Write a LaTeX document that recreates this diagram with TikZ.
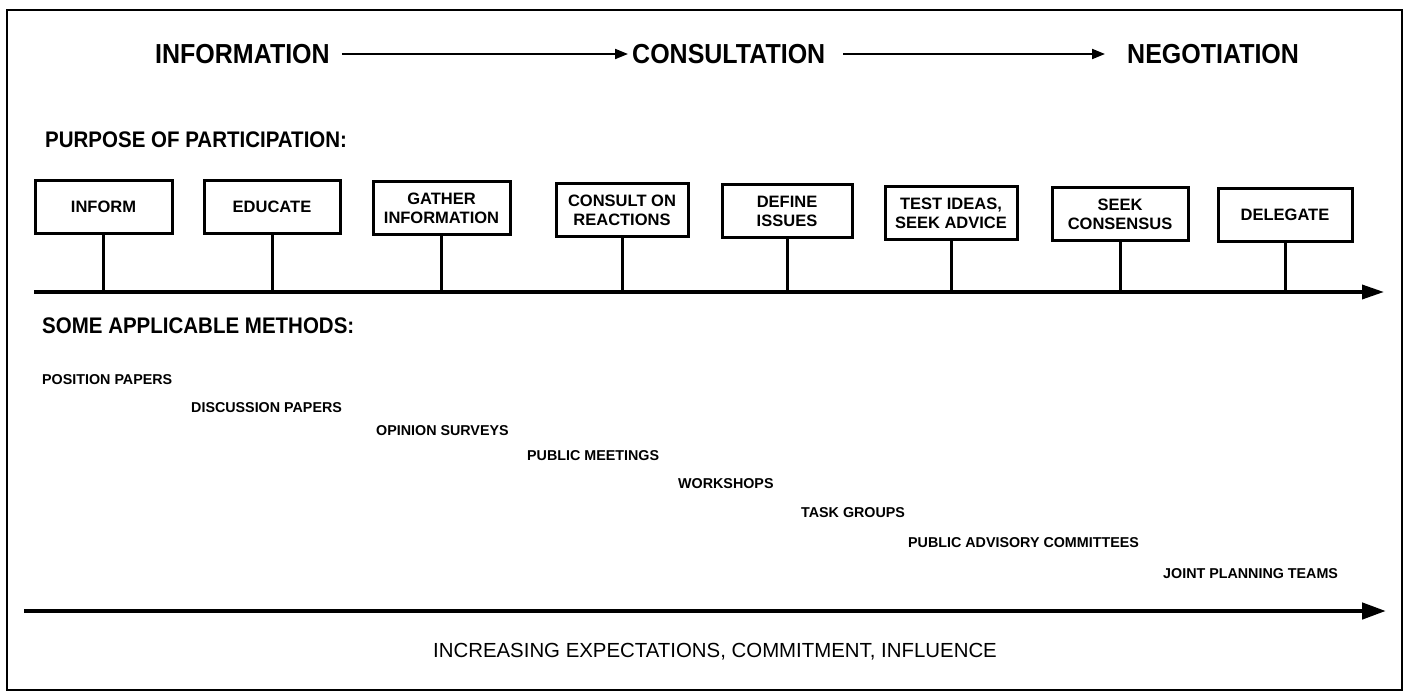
\documentclass[tikz,border=0pt]{standalone}
\usepackage{fontspec}
\setmainfont{Liberation Sans}
\usetikzlibrary{arrows.meta}
\tikzset{
  px/.style={x=1pt,y=-1pt},
  toptxt/.style={inner sep=0pt, anchor=west, font=\fontsize{25}{28}\selectfont\bfseries},
  headtxt/.style={inner sep=0pt, anchor=west, font=\fontsize{20.5}{24}\selectfont\bfseries},
  pbox/.style={draw, line width=3pt, align=center, inner sep=0pt, minimum height=52pt,
     font=\fontsize{16.5}{19}\selectfont\bfseries},
  meth/.style={inner sep=0pt, anchor=west, font=\fontsize{14.3}{16}\selectfont\bfseries},
  toparrow/.style={line width=2pt, -{Triangle[length=13pt,width=10pt]}},
  axisarrow/.style={line width=3.5pt, -{Triangle[length=22pt,width=14pt]}},
  stem/.style={line width=3pt},
  botarrow/.style={line width=4.5pt, -{Triangle[length=24pt,width=16pt]}},
}
\newcommand{\tall}[1]{\scalebox{1}[1.1]{#1}}
\begin{document}
\begin{tikzpicture}[px]
\useasboundingbox (0,0) rectangle (1409,698);
\draw[line width=2pt] (7,10) rectangle (1402,690);
% top row
\node[toptxt] (info) at (155,54) {\tall{INFORMATION}};
\node[toptxt] (cons) at (632,54) {\tall{CONSULTATION}};
\node[toptxt] (nego) at (1127,54) {\tall{NEGOTIATION}};
\draw[toparrow] ([xshift=12pt]info.east) -- ([xshift=-4pt]cons.west);
\draw[toparrow] ([xshift=18pt]cons.east) -- ([xshift=-22pt]nego.west);
% purpose
\node[headtxt] (purpose) at (45,140) {\tall{PURPOSE OF PARTICIPATION:}};
\coordinate (ax0) at (34,292);
\coordinate (ax1) at (1384,292);
\draw[axisarrow] (ax0) -- (ax1);
\node[pbox, minimum width=137pt] (b1) at (103.5,207) {INFORM};
\node[pbox, minimum width=136pt] (b2) at (272,207) {EDUCATE};
\node[pbox, minimum width=137pt] (b3) at (441.5,208) {GATHER\\INFORMATION};
\node[pbox, minimum width=132pt] (b4) at (622,210) {CONSULT ON\\REACTIONS};
\node[pbox, minimum width=130pt] (b5) at (787,211) {DEFINE\\ISSUES};
\node[pbox, minimum width=132pt] (b6) at (951,213) {TEST IDEAS,\\SEEK ADVICE};
\node[pbox, minimum width=136pt] (b7) at (1120,214) {SEEK\\CONSENSUS};
\node[pbox, minimum width=134pt] (b8) at (1285,215) {DELEGATE};
\foreach \b in {b1,b2,b3,b4,b5,b6,b7,b8}{
  \draw[stem] (\b.south) -- (\b.south |- ax0);
}
% methods
\node[headtxt] (methods) at (42,326) {\tall{SOME APPLICABLE METHODS:}};
\node[meth] (m1) at (42,380) {POSITION PAPERS};
\node[meth] (m2) at (191,408) {DISCUSSION PAPERS};
\node[meth] (m3) at (376,431) {OPINION SURVEYS};
\node[meth] (m4) at (527,456) {PUBLIC MEETINGS};
\node[meth] (m5) at (678,484) {WORKSHOPS};
\node[meth] (m6) at (801,513) {TASK GROUPS};
\node[meth] (m7) at (908,543) {PUBLIC ADVISORY COMMITTEES};
\node[meth] (m8) at (1163,574) {JOINT PLANNING TEAMS};
% bottom
\coordinate (bt0) at (24,611);
\coordinate (bt1) at (1386,611);
\draw[botarrow] (bt0) -- (bt1);
\node[inner sep=0pt, font=\fontsize{20.4}{24}\selectfont] (incr) at (715,652) {INCREASING EXPECTATIONS, COMMITMENT, INFLUENCE};
\end{tikzpicture}
\end{document}
